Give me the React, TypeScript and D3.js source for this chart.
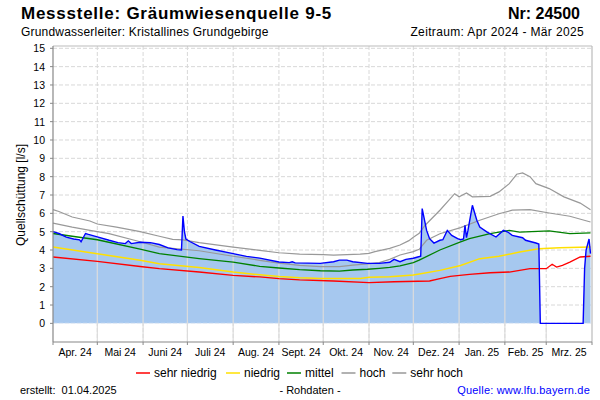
import React from "react";
import * as d3 from "d3";

// ---------- data ----------
const monthLabels = ["Apr. 24", "Mai 24", "Juni 24", "Juli 24", "Aug. 24", "Sept. 24", "Okt. 24", "Nov. 24", "Dez. 24", "Jan. 25", "Feb. 25", "Mrz. 25"];
const yTicks = [0, 1, 2, 3, 4, 5, 6, 7, 8, 9, 10, 11, 12, 13, 14, 15];

const rohdaten: [string, number][] = [
  ["2024-04-01", 5.0], ["2024-04-05", 4.9], ["2024-04-10", 4.7], ["2024-04-15", 4.6], ["2024-04-19", 4.55],
  ["2024-04-20", 4.45], ["2024-04-22", 4.75], ["2024-04-23", 4.9], ["2024-04-25", 4.85], ["2024-05-01", 4.72],
  ["2024-05-09", 4.53], ["2024-05-15", 4.4], ["2024-05-20", 4.35], ["2024-05-22", 4.5], ["2024-05-24", 4.35],
  ["2024-05-30", 4.42], ["2024-06-06", 4.4], ["2024-06-12", 4.3], ["2024-06-18", 4.12], ["2024-06-24", 4.02],
  ["2024-06-27", 4.0], ["2024-06-28", 5.85], ["2024-06-29", 5.0], ["2024-06-30", 4.6], ["2024-07-03", 4.45],
  ["2024-07-09", 4.2], ["2024-07-20", 4.0], ["2024-08-01", 3.8], ["2024-08-10", 3.65], ["2024-08-19", 3.56],
  ["2024-09-01", 3.35], ["2024-09-08", 3.31], ["2024-09-10", 3.36], ["2024-09-12", 3.3], ["2024-09-29", 3.27],
  ["2024-10-08", 3.36], ["2024-10-12", 3.45], ["2024-10-17", 3.45], ["2024-10-21", 3.36], ["2024-10-31", 3.27],
  ["2024-11-08", 3.27], ["2024-11-15", 3.33], ["2024-11-18", 3.49], ["2024-11-22", 3.36], ["2024-11-26", 3.49],
  ["2024-12-01", 3.55], ["2024-12-04", 3.62], ["2024-12-06", 3.66], ["2024-12-07", 6.26], ["2024-12-10", 5.07],
  ["2024-12-12", 4.62], ["2024-12-15", 4.38], ["2024-12-19", 4.53], ["2024-12-21", 4.56], ["2024-12-24", 5.07],
  ["2024-12-27", 4.8], ["2024-12-31", 4.62], ["2025-01-02", 4.56], ["2025-01-04", 4.6], ["2025-01-05", 5.35],
  ["2025-01-06", 4.67], ["2025-01-07", 5.07], ["2025-01-10", 6.44], ["2025-01-13", 5.62], ["2025-01-15", 5.25],
  ["2025-01-20", 4.98], ["2025-01-26", 4.71], ["2025-01-31", 5.07], ["2025-02-03", 4.98], ["2025-02-06", 4.8],
  ["2025-02-13", 4.67], ["2025-02-15", 4.53], ["2025-02-22", 4.38], ["2025-02-24", 4.33], ["2025-02-25", 0],
  ["2025-03-26", 0], ["2025-03-27", 3.0], ["2025-03-28", 4.0], ["2025-03-30", 4.6], ["2025-03-31", 3.8],
];

const sehrHoch: [string, number][] = [
  ["2024-04-01", 6.2], ["2024-04-05", 6.1], ["2024-04-14", 5.8], ["2024-04-26", 5.58], ["2024-05-01", 5.42],
  ["2024-05-14", 5.25], ["2024-05-30", 5.0], ["2024-06-12", 4.75], ["2024-06-21", 4.58], ["2024-06-28", 4.55],
  ["2024-07-09", 4.4], ["2024-08-01", 4.16], ["2024-08-19", 3.98], ["2024-09-01", 3.85], ["2024-09-15", 3.78],
  ["2024-10-01", 3.75], ["2024-10-08", 3.72], ["2024-10-26", 3.78], ["2024-11-01", 3.82], ["2024-11-05", 3.91],
  ["2024-11-15", 4.09], ["2024-11-22", 4.27], ["2024-11-28", 4.51], ["2024-12-01", 4.7], ["2024-12-05", 4.91],
  ["2024-12-09", 5.35], ["2024-12-19", 6.17], ["2024-12-29", 7.07], ["2025-01-01", 6.9], ["2025-01-06", 7.11],
  ["2025-01-10", 6.9], ["2025-01-22", 6.93], ["2025-01-28", 7.17], ["2025-02-04", 7.62], ["2025-02-09", 8.13],
  ["2025-02-13", 8.2], ["2025-02-18", 8.0], ["2025-02-22", 7.62], ["2025-03-03", 7.35], ["2025-03-13", 6.9],
  ["2025-03-24", 6.56], ["2025-03-31", 6.2],
];

const hoch: [string, number][] = [
  ["2024-04-01", 5.47], ["2024-04-14", 5.25], ["2024-04-26", 5.07], ["2024-05-09", 4.89], ["2024-05-30", 4.45],
  ["2024-06-12", 4.16], ["2024-07-09", 3.96], ["2024-08-01", 3.66], ["2024-08-19", 3.44], ["2024-09-01", 3.29],
  ["2024-09-15", 3.16], ["2024-09-29", 3.09], ["2024-10-12", 3.09], ["2024-10-21", 3.18], ["2024-10-31", 3.24],
  ["2024-11-08", 3.31], ["2024-11-15", 3.49], ["2024-11-22", 3.73], ["2024-12-01", 3.91], ["2024-12-05", 4.04],
  ["2024-12-10", 4.53], ["2024-12-19", 4.89], ["2025-01-02", 5.22], ["2025-01-15", 5.62], ["2025-01-28", 5.98],
  ["2025-02-06", 6.17], ["2025-02-18", 6.2], ["2025-03-03", 6.02], ["2025-03-17", 5.84], ["2025-03-31", 5.53],
];

const mittel: [string, number][] = [
  ["2024-04-01", 4.9], ["2024-04-14", 4.75], ["2024-05-01", 4.56], ["2024-05-30", 4.05], ["2024-06-12", 3.8],
  ["2024-07-09", 3.53], ["2024-08-01", 3.34], ["2024-08-19", 3.11], ["2024-09-01", 3.02], ["2024-09-15", 2.93],
  ["2024-09-29", 2.87], ["2024-10-12", 2.85], ["2024-10-21", 2.91], ["2024-10-31", 2.95], ["2024-11-08", 3.0],
  ["2024-11-15", 3.05], ["2024-11-22", 3.13], ["2024-12-01", 3.31], ["2024-12-05", 3.45], ["2024-12-19", 4.0],
  ["2025-01-02", 4.44], ["2025-01-08", 4.62], ["2025-01-22", 4.89], ["2025-02-04", 5.07], ["2025-02-11", 4.98],
  ["2025-03-03", 5.04], ["2025-03-17", 4.89], ["2025-03-31", 4.93],
];

const niedrig: [string, number][] = [
  ["2024-04-01", 4.16], ["2024-05-01", 3.8], ["2024-05-30", 3.44], ["2024-06-12", 3.25], ["2024-07-09", 3.04],
  ["2024-08-01", 2.8], ["2024-08-19", 2.65], ["2024-09-01", 2.56], ["2024-09-15", 2.49], ["2024-09-29", 2.45],
  ["2024-10-26", 2.45], ["2024-11-01", 2.51], ["2024-11-15", 2.54], ["2024-12-01", 2.64], ["2024-12-05", 2.69],
  ["2024-12-19", 2.89], ["2025-01-02", 3.16], ["2025-01-15", 3.53], ["2025-01-28", 3.66], ["2025-02-11", 3.89],
  ["2025-02-24", 4.07], ["2025-03-10", 4.13], ["2025-03-31", 4.16],
];

const sehrNiedrig: [string, number][] = [
  ["2024-04-01", 3.62], ["2024-05-01", 3.38], ["2024-05-30", 3.1], ["2024-06-12", 2.98], ["2024-07-09", 2.8],
  ["2024-08-01", 2.62], ["2024-08-19", 2.53], ["2024-09-01", 2.44], ["2024-09-15", 2.37], ["2024-10-08", 2.31],
  ["2024-11-01", 2.22], ["2024-11-18", 2.27], ["2024-12-12", 2.31], ["2024-12-19", 2.44], ["2024-12-26", 2.56],
  ["2025-01-08", 2.67], ["2025-01-22", 2.76], ["2025-02-04", 2.8], ["2025-02-18", 2.98], ["2025-03-01", 2.98],
  ["2025-03-05", 3.22], ["2025-03-08", 3.07], ["2025-03-12", 3.16], ["2025-03-17", 3.34], ["2025-03-24", 3.62],
  ["2025-03-31", 3.66],
];

const legendItems = [
  { label: "sehr niedrig", color: "#ff0000" },
  { label: "niedrig", color: "#ffe000" },
  { label: "mittel", color: "#008000" },
  { label: "hoch", color: "#999999" },
  { label: "sehr hoch", color: "#999999" },
];

// ---------- layout ----------
const W = 600, H = 400;
const left = 53, right = 592, top = 46, bottom = 342;
const FONT = "'Liberation Sans', Arial, sans-serif";
const legendX = [136, 226, 287, 341.5, 392.3];

const parse = d3.timeParse("%Y-%m-%d");

export default function App() {
  const x = d3.scaleTime().domain([parse("2024-04-01")!, parse("2025-04-01")!]).range([left, right]);
  const y = d3.scaleLinear().domain([-1, 15]).range([341.7, 48.3]);

  const conv = (s: [string, number][]) => s.map(([d, v]) => ({ date: parse(d)!, v }));
  const line = d3.line<{ date: Date; v: number }>().x((d) => x(d.date)).y((d) => y(d.v));
  const area = d3.area<{ date: Date; v: number }>().x((d) => x(d.date)).y0(y(0)).y1((d) => y(d.v));

  const raw = conv(rohdaten);
  const months = d3.timeMonth.range(parse("2024-04-01")!, parse("2025-04-02")!);
  const areaPath = area(raw) || "";

  return (
    <svg width={W} height={H} style={{ position: "absolute", left: 0, top: 0, background: "#fff" }} fontFamily={FONT}>
      <rect x={0} y={0} width={W} height={H} fill="#fff" />
      <defs>
        <clipPath id="areaClip">
          <path d={areaPath} />
          <rect x={left} y={y(0)} width={right - left} height={bottom - y(0)} />
        </clipPath>
      </defs>

      {/* header */}
      <text x={21} y={19} fontSize={17} fontWeight="bold" letterSpacing={0.75} fill="#000">Messstelle: Gräumwiesenquelle 9-5</text>
      <text x={580} y={19} fontSize={16} fontWeight="bold" fill="#000" textAnchor="end">Nr: 24500</text>
      <text x={21} y={36} fontSize={12} letterSpacing={0.2} fill="#000">Grundwasserleiter: Kristallines Grundgebirge</text>
      <text x={584} y={36} fontSize={12} letterSpacing={0.35} fill="#000" textAnchor="end">Zeitraum: Apr 2024 - Mär 2025</text>

      {/* dashed grid */}
      {yTicks.map((t) => (
        <line key={"h" + t} x1={left} x2={right} y1={y(t)} y2={y(t)} stroke="#d8d8d8" strokeDasharray="4,2" strokeWidth={1} />
      ))}
      {months.slice(1, -1).map((m, i) => (
        <line key={"v" + i} x1={x(m)} x2={x(m)} y1={top} y2={bottom} stroke="#d8d8d8" strokeDasharray="4,2" strokeWidth={1} />
      ))}

      {/* area */}
      <path d={areaPath} fill="#a6c8ef" />
      <line x1={left} x2={right} y1={y(0)} y2={y(0)} stroke="#e6eef8" strokeDasharray="4,2" strokeWidth={1} />
      <g clipPath="url(#areaClip)">
        {months.slice(1, -1).map((m, i) => (
          <line key={"vs" + i} x1={x(m)} x2={x(m)} y1={top} y2={bottom} stroke="#dcdcdc" strokeWidth={1.2} />
        ))}
      </g>

      {/* reference lines */}
      <path d={line(conv(sehrHoch)) || ""} fill="none" stroke="#999" strokeWidth={1.2} />
      <path d={line(conv(hoch)) || ""} fill="none" stroke="#999" strokeWidth={1.2} />
      <path d={line(conv(mittel)) || ""} fill="none" stroke="#008000" strokeWidth={1.3} />
      <path d={line(conv(niedrig)) || ""} fill="none" stroke="#ffe000" strokeWidth={1.5} />
      <path d={line(conv(sehrNiedrig)) || ""} fill="none" stroke="#ff0000" strokeWidth={1.3} />
      <path d={line(raw) || ""} fill="none" stroke="#0000ff" strokeWidth={1.4} />

      {/* frame */}
      <line x1={left} x2={right} y1={top} y2={top} stroke="#bbb" strokeWidth={1.2} />
      <line x1={right} x2={right} y1={top} y2={bottom} stroke="#bbb" strokeWidth={1.2} />
      <line x1={left} x2={left} y1={top} y2={bottom} stroke="#888" strokeWidth={1.2} />
      <line x1={left} x2={right} y1={bottom} y2={bottom} stroke="#888" strokeWidth={1.2} />

      {/* y axis */}
      {yTicks.map((t) => (
        <g key={"yt" + t}>
          <line x1={left - 3} x2={left} y1={y(t)} y2={y(t)} stroke="#888" />
          <text x={45} y={y(t) + 4} fontSize={10.5} textAnchor="end" fill="#000">{t}</text>
        </g>
      ))}
      <text transform={`translate(25,${y(7)}) rotate(-90)`} fontSize={12} textAnchor="middle" fill="#000">Quellschüttung [l/s]</text>

      {/* x axis */}
      {months.map((m, i) => (
        <line key={"xt" + i} x1={x(m)} x2={x(m)} y1={bottom} y2={bottom + 3} stroke="#888" />
      ))}
      {monthLabels.map((lab, i) => (
        <text key={"xl" + i} x={(x(months[i]) + x(months[i + 1])) / 2} y={356} fontSize={10.5} textAnchor="middle" fill="#000">{lab}</text>
      ))}

      {/* legend */}
      {legendItems.map((it, i) => (
        <g key={"lg" + i}>
          <line x1={legendX[i]} x2={legendX[i] + 14} y1={373} y2={373} stroke={it.color} strokeWidth={1.5} />
          <text x={legendX[i] + 18} y={377} fontSize={12} fill="#000">{it.label}</text>
        </g>
      ))}

      {/* footer */}
      <text x={20} y={394} fontSize={11} fill="#000" style={{ whiteSpace: "pre" }}>{"erstellt:  01.04.2025"}</text>
      <text x={310} y={394} fontSize={11} fill="#000" textAnchor="middle">- Rohdaten -</text>
      <text x={590} y={394} fontSize={11} letterSpacing={0.2} fill="#0000ff" textAnchor="end">Quelle: www.lfu.bayern.de</text>
    </svg>
  );
}
